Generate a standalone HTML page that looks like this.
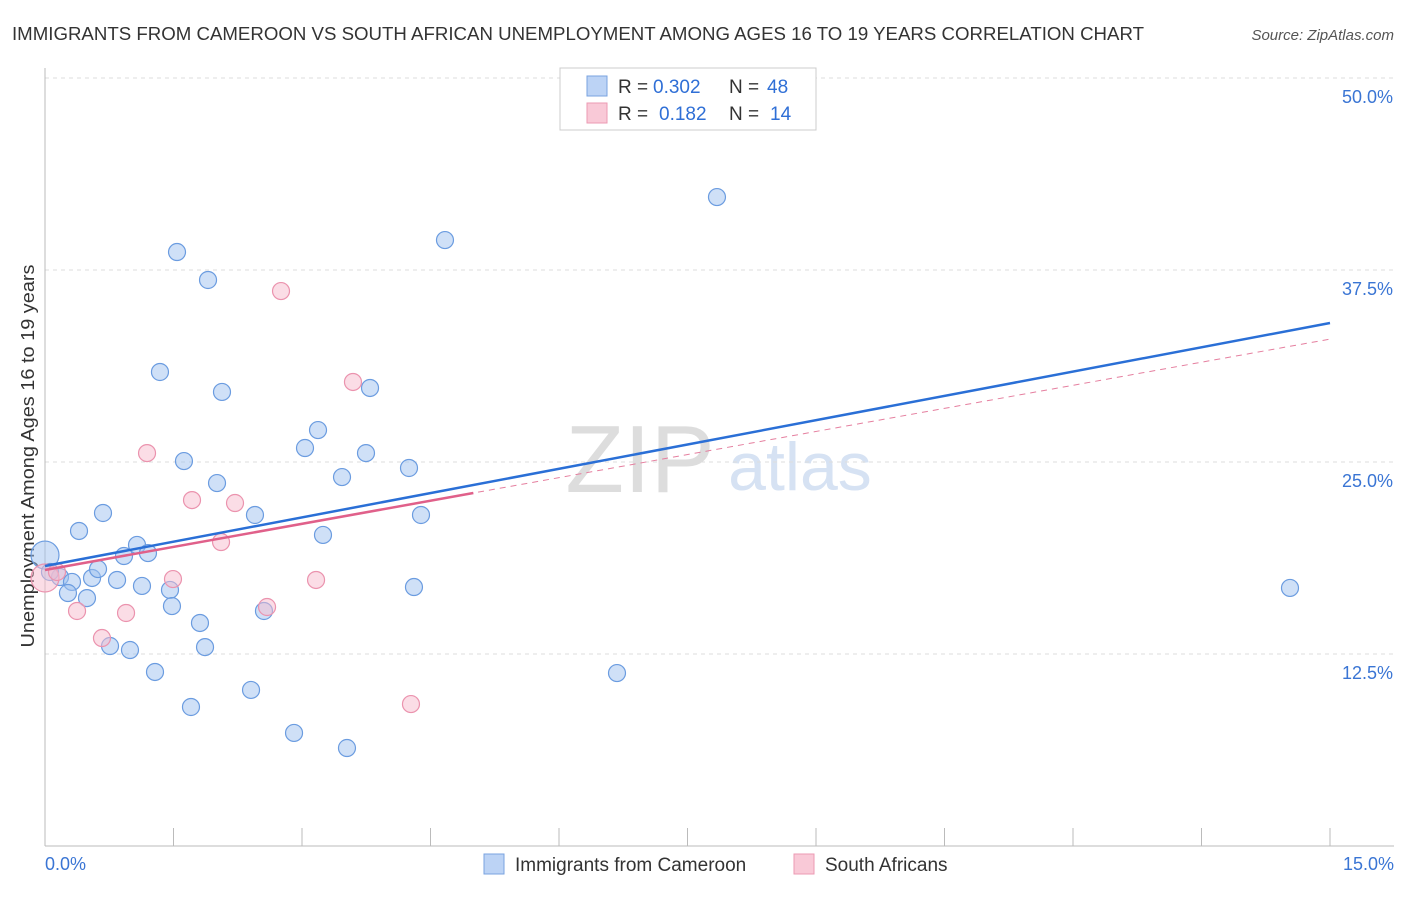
<!DOCTYPE html>
<html><head><meta charset="utf-8"><style>
body{margin:0;background:#fff;font-family:"Liberation Sans",sans-serif;}
svg text{font-family:"Liberation Sans",sans-serif;}
</style></head><body>
<svg id="chart" width="1406" height="892">
<text x="12" y="40" font-size="18" fill="#333" textLength="1132" lengthAdjust="spacingAndGlyphs">IMMIGRANTS FROM CAMEROON VS SOUTH AFRICAN UNEMPLOYMENT AMONG AGES 16 TO 19 YEARS CORRELATION CHART</text>
<text x="1394" y="40" font-size="15" fill="#555" font-style="italic" text-anchor="end">Source: ZipAtlas.com</text>
<text x="640" y="492" font-size="96" fill="#ddd" font-family="Liberation Serif" text-anchor="middle">ZIP</text>
<text x="800" y="490" font-size="68" fill="#d6e2f3" text-anchor="middle">atlas</text>
<text transform="translate(34,456) rotate(-90)" font-size="18" fill="#333" text-anchor="middle" textLength="383" lengthAdjust="spacingAndGlyphs">Unemployment Among Ages 16 to 19 years</text>
<g id="grid"></g><g id="marks"></g>
<g>
<rect x="560" y="68" width="256" height="62" fill="#fff" stroke="#ccc"/>
<rect x="587" y="76" width="20" height="20" fill="#bcd3f5" stroke="#7aa3e0"/>
<rect x="587" y="103" width="20" height="20" fill="#f9c9d7" stroke="#ec9ab3"/>
<text x="618" y="93" font-size="19" fill="#333">R =</text>
<text x="653" y="93" font-size="19" fill="#2f6fd6">0.302</text>
<text x="729" y="93" font-size="19" fill="#333">N =</text>
<text x="767" y="93" font-size="19" fill="#2f6fd6">48</text>
<text x="618" y="120" font-size="19" fill="#333">R =</text>
<text x="659" y="120" font-size="19" fill="#2f6fd6">0.182</text>
<text x="729" y="120" font-size="19" fill="#333">N =</text>
<text x="770" y="120" font-size="19" fill="#2f6fd6">14</text>
</g>
<g>
<rect x="484" y="854" width="20" height="20" fill="#bcd3f5" stroke="#7aa3e0"/>
<text x="515" y="871" font-size="19" fill="#333">Immigrants from Cameroon</text>
<rect x="794" y="854" width="20" height="20" fill="#f9c9d7" stroke="#ec9ab3"/>
<text x="825" y="871" font-size="19" fill="#333">South Africans</text>
</g>
</svg>
<script>
const blueX=[0,0.175,0.315,0.268,0.49,0.397,0.549,0.619,0.677,0.759,0.841,0.922,0.992,1.074,1.132,1.202,1.284,1.342,1.459,1.482,1.541,1.622,1.704,1.809,1.868,1.903,2.008,2.066,2.405,2.451,2.556,2.907,3.035,3.187,3.245,3.467,3.525,3.747,3.794,4.249,4.307,4.389,4.669,6.677,7.844,14.533,8.253,0.058];
const blueY=[18.94,17.51,17.19,16.47,16.14,20.51,17.45,18.03,21.68,13.02,17.32,18.88,12.76,19.6,16.93,19.07,11.33,30.86,16.67,15.62,38.67,25.06,9.05,14.52,12.95,36.85,23.63,29.56,10.16,21.55,15.3,7.36,25.91,27.08,20.25,24.02,6.38,25.58,29.82,24.61,16.86,21.55,39.45,11.26,42.25,16.8,49.35,17.84];
const pinkX=[0,0.14,0.374,0.665,0.946,1.191,1.494,1.716,2.055,2.218,2.592,2.755,3.164,3.595,4.272];
const pinkY=[17.45,17.84,15.3,13.54,15.17,25.58,17.38,22.52,19.79,22.33,15.56,36.13,17.32,30.21,9.24];
const yTicks=[12.5,25,37.5,50];
const yTickLabels=["12.5%","25.0%","37.5%","50.0%"];
const xTickLabels=["0.0%","15.0%"];
const blueTrend=[18.23,34.05];
const pinkTrend=[17.97,33.0];
const pinkSolidEnd=5;
const X0=45,X1=1330,Y0=846,Y1=78;
const sx=v=>X0+v/15*(X1-X0), sy=v=>Y0-v/50*(Y0-Y1);
const NS="http://www.w3.org/2000/svg";
function mk(t,a,p){const e=document.createElementNS(NS,t);for(const k in a)e.setAttribute(k,a[k]);p.appendChild(e);return e;}
const g=document.getElementById('grid'),m=document.getElementById('marks');
yTicks.forEach((t,i)=>{
 const l=mk('line',{x1:X0,x2:1394,y1:sy(t),y2:sy(t),stroke:'#ddd','stroke-dasharray':'4,4'},g);
 
 
 const tx=mk('text',{x:1393,y:sy(t)+25,'font-size':18,fill:'#3a75d4','text-anchor':'end'},g);
 tx.textContent=yTickLabels[i];
 
 
});
const ax=mk('line',{x1:X0,x2:X0,y1:68,y2:Y0,stroke:'#bbb'},g);


const bx=mk('line',{x1:X0,x2:1394,y1:Y0,y2:Y0,stroke:'#bbb'},g);


for(let i=1;i<=10;i++){const xx=X0+i*(X1-X0)/10;const tk=mk('line',{x1:xx,x2:xx,y1:Y0-18,y2:Y0,stroke:'#bbb'},g);
 
 }
[[0,'start',X0],[1,'end',1394]].forEach(([i,a,x])=>{const t=mk('text',{x:x,y:870,'font-size':18,fill:'#3a75d4','text-anchor':a},g);t.textContent=xTickLabels[i];
 
 });
blueX.forEach((x,i)=>{const c=mk('circle',{cx:sx(x),cy:sy(blueY[i]),r:x===0?14:8.5,fill:'rgba(160,194,240,0.5)',stroke:'#6b9ce0','stroke-width':1.2},m);
 
 });
pinkX.forEach((x,i)=>{const c=mk('circle',{cx:sx(x),cy:sy(pinkY[i]),r:x===0?14:8.5,fill:'rgba(248,188,206,0.5)',stroke:'#eb93ae','stroke-width':1.2},m);
 
 });
const pd=mk('line',{x1:sx(0),y1:sy(pinkTrend[0]),x2:sx(15),y2:sy(pinkTrend[1]),stroke:'#e57f9f','stroke-width':1,'stroke-dasharray':'6,5'},m);


const pe=pinkTrend[0]+(pinkTrend[1]-pinkTrend[0])*pinkSolidEnd/15;
const ps=mk('line',{x1:sx(0),y1:sy(pinkTrend[0]),x2:sx(pinkSolidEnd),y2:sy(pe),stroke:'#e0608a','stroke-width':2.5},m);


const bt=mk('line',{x1:sx(0),y1:sy(blueTrend[0]),x2:sx(15),y2:sy(blueTrend[1]),stroke:'#2a6fd6','stroke-width':2.5},m);


</script>
</body></html>
